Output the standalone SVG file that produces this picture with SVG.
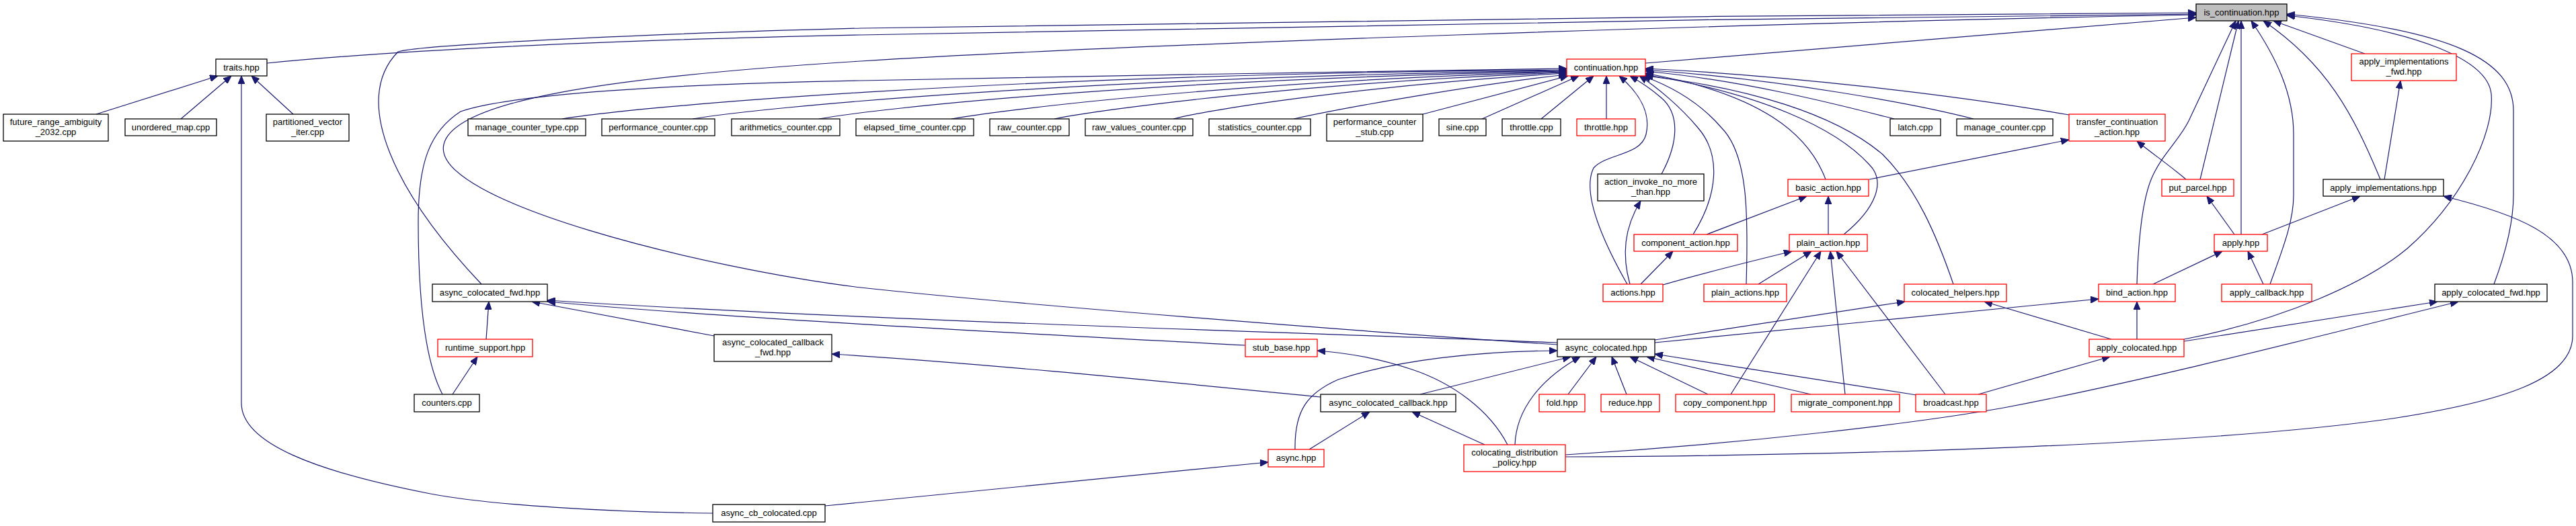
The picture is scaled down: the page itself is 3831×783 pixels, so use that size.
<svg xmlns="http://www.w3.org/2000/svg" width="3831" height="783" viewBox="0 0 3831 783">
<style>
.n rect{fill:#fff;stroke:#000;stroke-width:1.3}
.r rect{stroke:#ff0000}
.g rect{fill:#bfbfbf}
.n text{font-family:"Liberation Sans",Arial,sans-serif;font-size:13px;text-anchor:middle;fill:#000}
.e path{fill:none;stroke:#191970;stroke-width:1.2;marker-end:url(#a)}
</style>
<defs>
<marker id="a" markerUnits="userSpaceOnUse" markerWidth="12" markerHeight="10" refX="12" refY="5" orient="auto" viewBox="0 0 12 10"><path d="M0,0 L12,5 L0,10 z" fill="#191970" stroke="#191970" stroke-width="1"/></marker>
</defs>
<rect width="3831" height="783" fill="#fff"/>
<g id="edges" class="e">
<path d="M143,170 L324,113"/>
<path d="M269,177 L344,113"/>
<path d="M436,170 L374,113"/>
<path d="M1060,764 C 900,762 730,752 640,735 C 470,702 359,660 359,600 L359,113"/>
<path d="M397,94 C 600,74 900,60 1280,52 S 2600,26 3266,21"/>
<path d="M716,423 C 590,290 520,150 592,77 C 620,68 900,52 1280,42 S 2600,23 3266,19"/>
<path d="M2316,513 C 2000,492 1500,452 1280,428 C 1050,400 640,300 660,215 C 675,150 900,115 1280,91 S 2600,34 3266,22"/>
<path d="M2447,94 L3266,26"/>
<path d="M658,587 C 628,530 622,420 622,330 C 622,240 640,195 685,166 C 760,140 1000,125 1280,120 S 2100,104 2330,102"/>
<path d="M836,177 C 950,158 1500,110 2330,104"/>
<path d="M1030,177 C 1130,160 1600,115 2330,105"/>
<path d="M1218,177 C 1300,162 1700,118 2330,106"/>
<path d="M1415,177 C 1500,162 1850,120 2330,107"/>
<path d="M1568,177 C 1640,162 1950,122 2330,108"/>
<path d="M1745,177 C 1800,162 2050,125 2330,109"/>
<path d="M1924,177 C 2000,160 2200,125 2330,111"/>
<path d="M2116,170 L2332,113"/>
<path d="M2204,177 L2348,113"/>
<path d="M2292,177 L2370,113"/>
<path d="M2389,177 L2389,113"/>
<path d="M2817,177 C 2750,160 2600,120 2447,106"/>
<path d="M2935,177 C 2850,155 2650,118 2447,104"/>
<path d="M3077,171 C 2900,140 2650,112 2447,102"/>
<path d="M2715,267 C 2690,200 2620,140 2447,109"/>
<path d="M2742,349 C 2790,310 2805,270 2780,245 C 2730,190 2620,140 2447,111"/>
<path d="M2905,423 C 2880,350 2850,280 2800,230 C 2730,170 2600,130 2446,113"/>
<path d="M2597,423 C 2600,320 2600,230 2560,190 C 2530,155 2490,130 2443,113"/>
<path d="M2518,349 C 2555,290 2560,230 2525,190 C 2500,160 2465,130 2438,113"/>
<path d="M2471,259 C 2495,215 2500,170 2470,145 C 2455,132 2440,122 2424,113"/>
<path d="M2420,423 C 2390,370 2350,290 2370,250 C 2390,228 2440,232 2448,200 C 2455,170 2440,140 2408,113"/>
<path d="M2424,423 C 2412,380 2415,340 2440,299"/>
<path d="M2440,423 L2488,374"/>
<path d="M2473,424 C 2520,410 2600,390 2665,374"/>
<path d="M673,587 L710,531"/>
<path d="M723,505 L727,449"/>
<path d="M1062,500 L791,449"/>
<path d="M2316,510 C 2000,497 1300,478 814,447"/>
<path d="M1852,514 C 1500,495 1100,475 814,449"/>
<path d="M1964,591 C 1700,565 1450,540 1237,527"/>
<path d="M2112,587 L2336,531"/>
<path d="M1926,669 C 1925,610 1945,585 1990,565 C 2080,535 2200,523 2316,522"/>
<path d="M1947,669 L2037,613"/>
<path d="M1227,753 L1886,688"/>
<path d="M2208,662 L2100,613"/>
<path d="M2242,662 C 2215,610 2160,570 2100,550 C 2050,533 2000,525 1959,522"/>
<path d="M2253,662 C 2255,610 2290,565 2350,531"/>
<path d="M2332,587 L2374,531"/>
<path d="M2419,587 L2397,531"/>
<path d="M2540,587 L2424,531"/>
<path d="M2693,587 L2449,531"/>
<path d="M2850,588 L2461,527"/>
<path d="M2461,506 L2833,449"/>
<path d="M2461,510 L3121,445"/>
<path d="M2328,677 C 2600,660 2850,630 2980,607 C 3200,565 3450,500 3656,449"/>
<path d="M2328,680 C 2800,678 3300,660 3558,623 C 3720,598 3826,565 3826,500 L3826,420 C 3826,350 3740,318 3634,292"/>
<path d="M3248,508 L3625,449"/>
<path d="M3248,505 C 3400,475 3520,420 3580,370 C 3660,300 3710,200 3705,140 C 3700,90 3600,45 3401,23"/>
<path d="M3709,423 C 3725,380 3738,330 3738,290 L3738,165 C 3738,90 3650,45 3401,21"/>
<path d="M3178,505 L3178,449"/>
<path d="M3140,505 L2951,449"/>
<path d="M2942,587 L3138,531"/>
<path d="M2893,587 L2731,374"/>
<path d="M2744,587 L2722,374"/>
<path d="M2574,587 L2708,374"/>
<path d="M2615,423 L2694,374"/>
<path d="M2719,349 L2719,292"/>
<path d="M2538,349 L2687,292"/>
<path d="M2780,267 L3077,208"/>
<path d="M3251,267 C 3225,245 3200,228 3178,210"/>
<path d="M3323,349 L3282,292"/>
<path d="M3364,349 L3510,292"/>
<path d="M3546,267 L3570,120"/>
<path d="M3202,423 L3305,374"/>
<path d="M3366,423 L3343,374"/>
<path d="M3376,423 C 3395,370 3411,330 3411,290 L3411,200 C 3411,140 3385,85 3348,31"/>
<path d="M3178,423 C 3180,360 3185,300 3200,265 C 3215,230 3240,210 3255,180 L3325,31"/>
<path d="M3272,267 L3329,31"/>
<path d="M3333,349 L3333,31"/>
<path d="M3540,267 C 3500,170 3460,95 3366,31"/>
<path d="M3517,80 L3381,31"/>
</g>
<g id="is_continuation" class="n g"><rect x="3266" y="6" width="135" height="25"/><text x="3333.5" y="23">is_continuation.hpp</text></g>
<g id="traits" class="n"><rect x="321" y="88" width="76" height="25"/><text x="359" y="105">traits.hpp</text></g>
<g id="future_range_ambiguity" class="n"><rect x="5" y="170" width="156" height="40"/><text x="83" y="186">future_range_ambiguity</text><text x="83" y="201">_2032.cpp</text></g>
<g id="unordered_map" class="n"><rect x="186" y="177" width="136" height="25"/><text x="254" y="194">unordered_map.cpp</text></g>
<g id="partitioned_vector_iter" class="n"><rect x="396" y="170" width="123" height="40"/><text x="457.5" y="186">partitioned_vector</text><text x="457.5" y="201">_iter.cpp</text></g>
<g id="manage_counter_type" class="n"><rect x="696" y="177" width="175" height="25"/><text x="783.5" y="194">manage_counter_type.cpp</text></g>
<g id="performance_counter" class="n"><rect x="895" y="177" width="168" height="25"/><text x="979" y="194">performance_counter.cpp</text></g>
<g id="arithmetics_counter" class="n"><rect x="1088" y="177" width="161" height="25"/><text x="1168.5" y="194">arithmetics_counter.cpp</text></g>
<g id="elapsed_time_counter" class="n"><rect x="1273" y="177" width="175" height="25"/><text x="1360.5" y="194">elapsed_time_counter.cpp</text></g>
<g id="raw_counter" class="n"><rect x="1472" y="177" width="118" height="25"/><text x="1531" y="194">raw_counter.cpp</text></g>
<g id="raw_values_counter" class="n"><rect x="1614" y="177" width="160" height="25"/><text x="1694" y="194">raw_values_counter.cpp</text></g>
<g id="statistics_counter" class="n"><rect x="1798" y="177" width="151" height="25"/><text x="1873.5" y="194">statistics_counter.cpp</text></g>
<g id="performance_counter_stub" class="n"><rect x="1973" y="170" width="143" height="40"/><text x="2044.5" y="186">performance_counter</text><text x="2044.5" y="201">_stub.cpp</text></g>
<g id="sine" class="n"><rect x="2140" y="177" width="70" height="25"/><text x="2175" y="194">sine.cpp</text></g>
<g id="throttle_cpp" class="n"><rect x="2234" y="177" width="87" height="25"/><text x="2277.5" y="194">throttle.cpp</text></g>
<g id="throttle_hpp" class="n r"><rect x="2345" y="177" width="87" height="25"/><text x="2388.5" y="194">throttle.hpp</text></g>
<g id="continuation" class="n r"><rect x="2330" y="88" width="117" height="25"/><text x="2388.5" y="105">continuation.hpp</text></g>
<g id="action_invoke_no_more_than" class="n"><rect x="2376" y="259" width="158" height="40"/><text x="2455" y="275">action_invoke_no_more</text><text x="2455" y="290">_than.hpp</text></g>
<g id="component_action" class="n r"><rect x="2430" y="349" width="154" height="25"/><text x="2507" y="366">component_action.hpp</text></g>
<g id="latch" class="n"><rect x="2811" y="177" width="75" height="25"/><text x="2848.5" y="194">latch.cpp</text></g>
<g id="manage_counter" class="n"><rect x="2910" y="177" width="143" height="25"/><text x="2981.5" y="194">manage_counter.cpp</text></g>
<g id="transfer_continuation_action" class="n r"><rect x="3077" y="170" width="143" height="40"/><text x="3148.5" y="186">transfer_continuation</text><text x="3148.5" y="201">_action.hpp</text></g>
<g id="basic_action" class="n r"><rect x="2659" y="267" width="120" height="25"/><text x="2719" y="284">basic_action.hpp</text></g>
<g id="plain_action" class="n r"><rect x="2661" y="349" width="116" height="25"/><text x="2719" y="366">plain_action.hpp</text></g>
<g id="apply_implementations_fwd" class="n r"><rect x="3497" y="80" width="156" height="40"/><text x="3575" y="96">apply_implementations</text><text x="3575" y="111">_fwd.hpp</text></g>
<g id="put_parcel" class="n r"><rect x="3215" y="267" width="107" height="25"/><text x="3268.5" y="284">put_parcel.hpp</text></g>
<g id="apply_implementations" class="n"><rect x="3455" y="267" width="179" height="25"/><text x="3544.5" y="284">apply_implementations.hpp</text></g>
<g id="apply" class="n r"><rect x="3293" y="349" width="79" height="25"/><text x="3332.5" y="366">apply.hpp</text></g>
<g id="counters" class="n"><rect x="616" y="587" width="97" height="26"/><text x="664.5" y="604">counters.cpp</text></g>
<g id="async_colocated_fwd" class="n"><rect x="643" y="423" width="171" height="26"/><text x="728.5" y="440">async_colocated_fwd.hpp</text></g>
<g id="runtime_support" class="n r"><rect x="651" y="505" width="141" height="26"/><text x="721.5" y="522">runtime_support.hpp</text></g>
<g id="async_colocated_callback_fwd" class="n"><rect x="1062" y="498" width="175" height="40"/><text x="1149.5" y="514">async_colocated_callback</text><text x="1149.5" y="529">_fwd.hpp</text></g>
<g id="async_cb_colocated" class="n"><rect x="1060" y="751" width="167" height="26"/><text x="1143.5" y="768">async_cb_colocated.cpp</text></g>
<g id="stub_base" class="n r"><rect x="1852" y="505" width="107" height="26"/><text x="1905.5" y="522">stub_base.hpp</text></g>
<g id="async" class="n r"><rect x="1886" y="669" width="83" height="26"/><text x="1927.5" y="686">async.hpp</text></g>
<g id="actions" class="n r"><rect x="2384" y="423" width="89" height="26"/><text x="2428.5" y="440">actions.hpp</text></g>
<g id="plain_actions" class="n r"><rect x="2534" y="423" width="123" height="26"/><text x="2595.5" y="440">plain_actions.hpp</text></g>
<g id="async_colocated" class="n"><rect x="2316" y="505" width="145" height="26"/><text x="2388.5" y="522">async_colocated.hpp</text></g>
<g id="async_colocated_callback" class="n"><rect x="1964" y="587" width="201" height="26"/><text x="2064.5" y="604">async_colocated_callback.hpp</text></g>
<g id="fold" class="n r"><rect x="2289" y="587" width="68" height="26"/><text x="2323" y="604">fold.hpp</text></g>
<g id="reduce" class="n r"><rect x="2381" y="587" width="87" height="26"/><text x="2424.5" y="604">reduce.hpp</text></g>
<g id="copy_component" class="n r"><rect x="2492" y="587" width="147" height="26"/><text x="2565.5" y="604">copy_component.hpp</text></g>
<g id="colocating_distribution_policy" class="n r"><rect x="2177" y="662" width="151" height="40"/><text x="2252.5" y="678">colocating_distribution</text><text x="2252.5" y="693">_policy.hpp</text></g>
<g id="colocated_helpers" class="n r"><rect x="2832" y="423" width="152" height="26"/><text x="2908" y="440">colocated_helpers.hpp</text></g>
<g id="bind_action" class="n r"><rect x="3121" y="423" width="114" height="26"/><text x="3178" y="440">bind_action.hpp</text></g>
<g id="apply_colocated" class="n r"><rect x="3107" y="505" width="141" height="26"/><text x="3177.5" y="522">apply_colocated.hpp</text></g>
<g id="migrate_component" class="n r"><rect x="2664" y="587" width="161" height="26"/><text x="2744.5" y="604">migrate_component.hpp</text></g>
<g id="broadcast" class="n r"><rect x="2849" y="587" width="105" height="26"/><text x="2901.5" y="604">broadcast.hpp</text></g>
<g id="apply_callback" class="n r"><rect x="3304" y="423" width="134" height="26"/><text x="3371" y="440">apply_callback.hpp</text></g>
<g id="apply_colocated_fwd" class="n"><rect x="3621" y="423" width="167" height="26"/><text x="3704.5" y="440">apply_colocated_fwd.hpp</text></g>
</svg>
